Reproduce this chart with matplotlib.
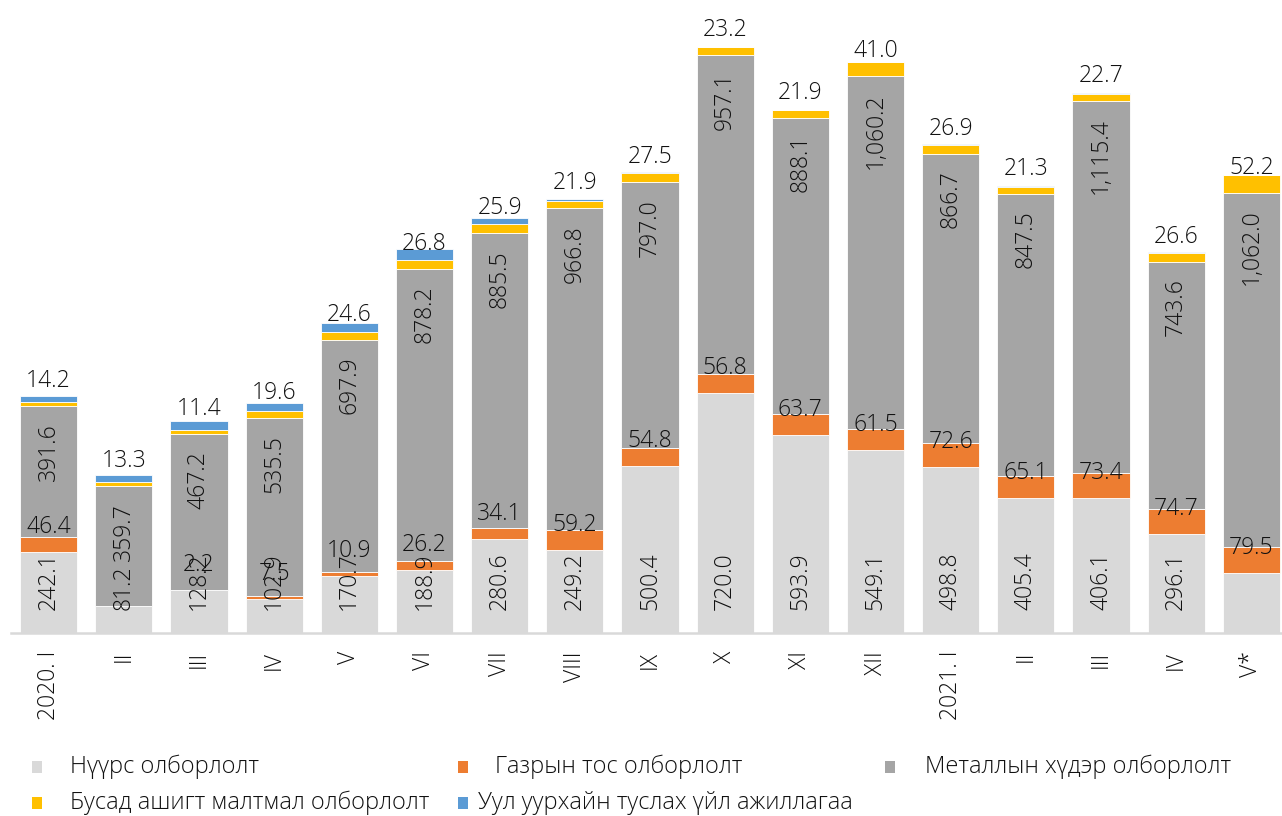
import matplotlib
matplotlib.use('Agg')
import matplotlib.pyplot as plt
import numpy as np
from matplotlib.patches import Rectangle

matplotlib.rcParams['font.family'] = ['Open Sans', 'DejaVu Sans']
matplotlib.rcParams['font.weight'] = 'light'

months = ['2020. I', 'II', 'III', 'IV', 'V', 'VI', 'VII', 'VIII', 'IX', 'X', 'XI', 'XII',
          '2021. I', 'II', 'III', 'IV', 'V*']
coal = [242.1, 81.2, 128.2, 102.9, 170.7, 188.9, 280.6, 249.2, 500.4, 720.0, 593.9, 549.1,
        498.8, 405.4, 406.1, 296.1, 180.0]
oil = [46.4, 0.0, 2.2, 7.5, 10.9, 26.2, 34.1, 59.2, 54.8, 56.8, 63.7, 61.5,
       72.6, 65.1, 73.4, 74.7, 79.5]
metal = [391.6, 359.7, 467.2, 535.5, 697.9, 878.2, 885.5, 966.8, 797.0, 957.1, 888.1, 1060.2,
         866.7, 847.5, 1115.4, 743.6, 1062.0]
other = [14.2, 13.3, 11.4, 19.6, 24.6, 26.8, 25.9, 21.9, 27.5, 23.2, 21.9, 41.0,
         26.9, 21.3, 22.7, 26.6, 52.2]
support = [18.0, 20.0, 27.0, 26.0, 27.0, 33.0, 20.0, 4.0, 4.0, 2.0, 2.0, 2.0,
           1.5, 2.0, 3.0, 2.0, 1.5]
# labels that are not shown on the original
coal_show = [True] * 16 + [False]
oil_show = [True, False] + [True] * 15

names = ['Нүүрс олборлолт', 'Газрын тос олборлолт', 'Металлын хүдэр олборлолт',
         'Бусад ашигт малтмал олборлолт', 'Уул уурхайн туслах үйл ажиллагаа']
colors = ['#D9D9D9', '#ED7D31', '#A5A5A5', '#FFC000', '#5B9BD5']

fs = 16.5
tc = '#111111'
px = 72 / 100  # points per pixel

fig = plt.figure(figsize=(12.82, 8.16), dpi=100)
ax = fig.add_axes([11 / 1282, 183 / 816, 1278 / 1282, 600 / 816])

x = np.arange(len(months))
series = [coal, oil, metal, other, support]
bottom = np.zeros(len(months))
bottoms = []
for vals, c in zip(series, colors):
    bottoms.append(bottom.copy())
    ax.bar(x, vals, 0.76, bottom=bottom, color=c, edgecolor='white', linewidth=0.6)
    bottom = bottom + np.array(vals)

for i in range(len(months)):
    # coal: rotated, inside base
    if coal_show[i]:
        ax.annotate(f'{coal[i]:,.1f}', (x[i], 0), xytext=(0, 23 * px), textcoords='offset points',
                    rotation=90, ha='center', va='bottom', fontsize=fs, color=tc)
    # oil: horizontal, inside base
    if oil_show[i]:
        ax.annotate(f'{oil[i]:,.1f}', (x[i], bottoms[1][i]), xytext=(0, 19 * px),
                    textcoords='offset points', ha='center', va='baseline', fontsize=fs, color=tc)
    # metal: rotated, inside end
    top_m = bottoms[2][i] + metal[i]
    ax.annotate(f'{metal[i]:,.1f}', (x[i], top_m), xytext=(0, -17 * px), textcoords='offset points',
                rotation=90, ha='center', va='top', fontsize=fs, color=tc)
    # other minerals: horizontal, inside base
    ax.annotate(f'{other[i]:,.1f}', (x[i], bottoms[3][i]), xytext=(0, 19 * px),
                textcoords='offset points', ha='center', va='baseline', fontsize=fs, color=tc)

ax.set_xlim(-0.5, len(months) - 0.5)
ax.set_ylim(0, 1800)
ax.set_yticks([])
ax.set_xticks(x)
ax.set_xticklabels(months, rotation=90, fontsize=fs, color=tc, va='top')
ax.tick_params(axis='x', length=0, pad=18 * px)
for s in ['top', 'right', 'left']:
    ax.spines[s].set_visible(False)
ax.spines['bottom'].set_color('#D9D9D9')
ax.spines['bottom'].set_linewidth(1.8)

# legend, Excel style layout
leg_pos = [(37, 767, 70), (463, 767, 495), (890, 767, 925), (37, 803, 70), (463, 803, 478)]
for (mx, my, tx), name, c in zip(leg_pos, names, colors):
    fig.patches.append(Rectangle(((mx - 5) / 1282, 1 - (my + 6) / 816), 10 / 1282, 12 / 816,
                                 transform=fig.transFigure, facecolor=c, edgecolor='none'))
    fig.text(tx / 1282, 1 - my / 816, name, fontsize=17, va='center', ha='left', color=tc)

plt.savefig('out.png', dpi=100)
